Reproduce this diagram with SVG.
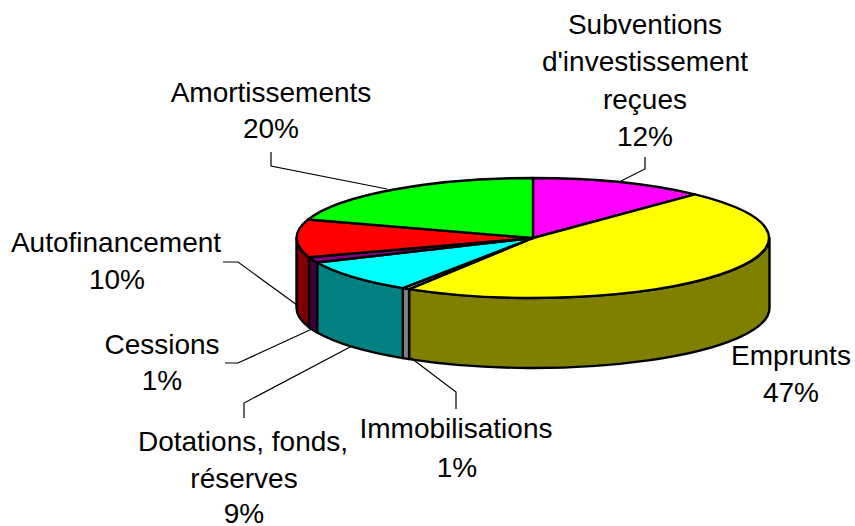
<svg xmlns="http://www.w3.org/2000/svg" width="855" height="526" viewBox="0 0 855 526">
<style>
.s{stroke:#000;stroke-width:2.4;stroke-linejoin:round}
.t{font-family:"Liberation Sans",Arial,sans-serif;font-size:28px;fill:#000;text-anchor:middle}
.l{fill:none;stroke:#000;stroke-width:1.2}
</style>
<rect width="855" height="526" fill="#fff"/>
<g id="subventions">
<path class="s" fill="#FF00FF" d="M533,238 L533,178 A236.5,60 0 0 1 694.9,194.3 Z"/>
<text class="t" x="645" y="34">Subventions</text>
<text class="t" x="645" y="71">d'investissement</text>
<text class="t" x="645" y="109">reçues</text>
<text class="t" x="645" y="146">12%</text>
</g>
<g id="emprunts">
<path class="s" fill="#808000" d="M769.5,238 A236.5,60 0 0 1 409.1,289.1 L409.1,359.1 A236.5,60 0 0 0 769.5,308 Z"/>
<path class="s" fill="#FFFF00" d="M533,238 L694.9,194.3 A236.5,60 0 0 1 409.1,289.1 Z"/>
<text class="t" x="791" y="365">Emprunts</text>
<text class="t" x="791" y="402">47%</text>
</g>
<g id="immobilisations">
<path class="s" fill="#808080" d="M409.1,289.1 A236.5,60 0 0 1 402.8,288.1 L402.8,358.1 A236.5,60 0 0 0 409.1,359.1 Z"/>
<path class="s" fill="#C0C0C0" d="M533,238 L409.1,289.1 A236.5,60 0 0 1 402.8,288.1 Z"/>
<text class="t" x="456" y="438">Immobilisations</text>
<text class="t" x="457" y="477">1%</text>
</g>
<g id="dotations">
<path class="s" fill="#008080" d="M402.8,288.1 A236.5,60 0 0 1 317.1,262.5 L317.1,332.5 A236.5,60 0 0 0 402.8,358.1 Z"/>
<path class="s" fill="#00FFFF" d="M533,238 L402.8,288.1 A236.5,60 0 0 1 317.1,262.5 Z"/>
<text class="t" x="243" y="451">Dotations, fonds,</text>
<text class="t" x="244" y="488">réserves</text>
<text class="t" x="244" y="523">9%</text>
</g>
<g id="cessions">
<path class="s" fill="#400040" d="M317.1,262.5 A236.5,60 0 0 1 309,257.2 L309,327.2 A236.5,60 0 0 0 317.1,332.5 Z"/>
<path class="s" fill="#800080" d="M533,238 L317.1,262.5 A236.5,60 0 0 1 309,257.2 Z"/>
<text class="t" x="162" y="354">Cessions</text>
<text class="t" x="162" y="390">1%</text>
</g>
<g id="autofinancement">
<path class="s" fill="#800000" d="M309,257.2 A236.5,60 0 0 1 296.5,238 L296.5,308 A236.5,60 0 0 0 309,327.2 Z"/>
<path class="s" fill="#FF0000" d="M533,238 L309,257.2 A236.5,60 0 0 1 308.1,219.5 Z"/>
<text class="t" x="116" y="252">Autofinancement</text>
<text class="t" x="117" y="289">10%</text>
</g>
<g id="amortissements">
<path class="s" fill="#00FF00" d="M533,238 L308.1,219.5 A236.5,60 0 0 1 533,178 Z"/>
<text class="t" x="271" y="102">Amortissements</text>
<text class="t" x="271" y="138">20%</text>
</g>
<g id="connectors">
<path class="l" d="M271,152 L271,166 L387,189"/>
<path class="l" d="M645,157 L645,169 L621,181"/>
<path class="l" d="M223,262 L238,262 L297,305"/>
<path class="l" d="M225,363 L238,363 L312,329"/>
<path class="l" d="M244,418 L244,403 L352,346"/>
<path class="l" d="M411,358 L456,392 L456,409"/>
</g>
</svg>
